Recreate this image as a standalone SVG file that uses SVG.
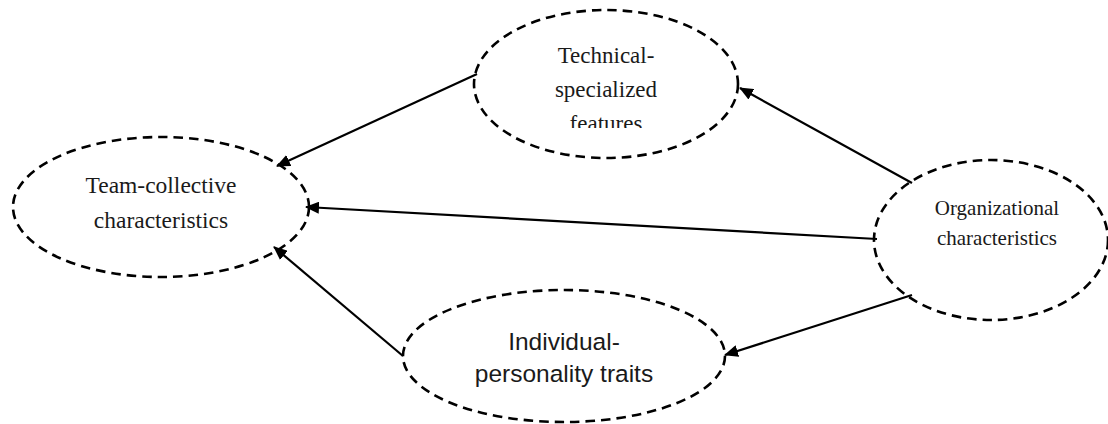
<svg xmlns="http://www.w3.org/2000/svg" width="1108" height="424" viewBox="0 0 1108 424">
<style>
.node ellipse{fill:none;stroke:#000;stroke-width:2.6;stroke-dasharray:9.5 6}
.serif{font-family:"Liberation Serif","DejaVu Serif",serif;fill:#1a1a1a;text-anchor:middle}
.sans{font-family:"Liberation Sans","DejaVu Sans",sans-serif;fill:#1a1a1a;text-anchor:middle}
.edge{stroke:#000;stroke-width:2.2;fill:none;marker-end:url(#ah)}
</style>
<defs>
<marker id="ah" viewBox="0 0 14 12" refX="13" refY="6" markerWidth="14" markerHeight="12" markerUnits="userSpaceOnUse" orient="auto">
<path d="M0,0 L14,6 L0,12 Z" fill="#000"/>
</marker>
<clipPath id="clipTop"><rect x="474" y="0" width="264" height="128"/></clipPath>
</defs>
<rect width="1108" height="424" fill="#fff"/>
<g id="connectors">
<line class="edge" x1="477" y1="74" x2="277" y2="166"/>
<line class="edge" x1="877" y1="239" x2="306" y2="207"/>
<line class="edge" x1="912" y1="183" x2="740" y2="88"/>
<line class="edge" x1="912" y1="295" x2="725" y2="355"/>
<line class="edge" x1="403" y1="356" x2="274" y2="247"/>
</g>
<g id="node-technical" class="node">
<ellipse cx="606" cy="84" rx="132" ry="74"/>
<g clip-path="url(#clipTop)">
<text class="serif" font-size="23" x="606" y="63">Technical-</text>
<text class="serif" font-size="23" x="606" y="97">specialized</text>
<text class="serif" font-size="23" x="606" y="131">features</text>
</g>
</g>
<g id="node-team" class="node">
<ellipse cx="161" cy="207" rx="148" ry="70"/>
<text class="serif" font-size="23.5" x="161" y="193">Team-collective</text>
<text class="serif" font-size="23.5" x="161" y="228">characteristics</text>
</g>
<g id="node-organizational" class="node">
<ellipse cx="991" cy="240" rx="117" ry="80"/>
<text class="serif" font-size="21" x="997" y="215">Organizational</text>
<text class="serif" font-size="21" x="997" y="245">characteristics</text>
</g>
<g id="node-individual" class="node">
<ellipse cx="564" cy="356" rx="161" ry="66"/>
<text class="sans" font-size="24.5" x="564" y="350">Individual-</text>
<text class="sans" font-size="24.5" x="564" y="382">personality traits</text>
</g>
</svg>
